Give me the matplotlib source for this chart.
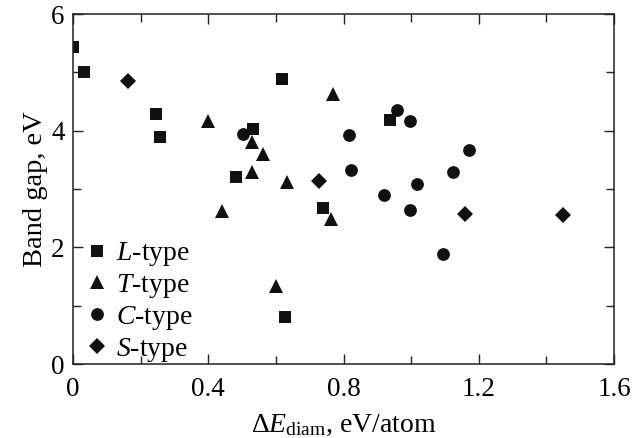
import matplotlib
matplotlib.use('Agg')
import matplotlib.pyplot as plt
from matplotlib.ticker import MultipleLocator

plt.rcParams['font.family'] = 'Liberation Serif'
plt.rcParams['mathtext.fontset'] = 'custom'
plt.rcParams['mathtext.rm'] = 'Liberation Serif'
plt.rcParams['mathtext.it'] = 'Liberation Serif:italic'

# band gap (eV) vs diamond-relative energy (eV/atom)
l_x = [0.0, 0.032, 0.246, 0.256, 0.481, 0.533, 0.619, 0.739, 0.938, 0.628]
l_y = [5.43, 5.01, 4.29, 3.90, 3.20, 4.03, 4.89, 2.68, 4.18, 0.81]

t_x = [0.398, 0.529, 0.561, 0.530, 0.632, 0.768, 0.442, 0.762, 0.600]
t_y = [4.17, 3.81, 3.60, 3.29, 3.12, 4.63, 2.63, 2.49, 1.33]

c_x = [0.503, 0.815, 0.822, 0.959, 0.998, 1.172, 1.125, 1.017, 0.920, 0.998, 1.094]
c_y = [3.95, 3.93, 3.32, 4.36, 4.16, 3.67, 3.30, 3.09, 2.90, 2.64, 1.88]

s_x = [0.164, 0.727, 1.158, 1.448]
s_y = [4.86, 3.13, 2.57, 2.56]

labels = ['$L$-type', '$T$-type', '$C$-type', '$S$-type']

fig = plt.figure(figsize=(6.34, 4.38), dpi=100)
ax = fig.add_axes([73 / 634, 1 - 364 / 438, 541 / 634, 350 / 438])

col = '#111111'
ax.plot(l_x, l_y, 's', color=col, ms=8.6, mew=0, label=labels[0])
ax.plot(t_x, t_y, '^', color=col, ms=9.5, mew=0, label=labels[1])
ax.plot(c_x, c_y, 'o', color=col, ms=9.2, mew=0, label=labels[2])
ax.plot(s_x, s_y, 'D', color=col, ms=8.2, mew=0, label=labels[3])

ax.set_xlim(0, 1.6)
ax.set_ylim(0, 6)
ax.xaxis.set_major_locator(MultipleLocator(0.4))
ax.xaxis.set_minor_locator(MultipleLocator(0.2))
ax.yaxis.set_major_locator(MultipleLocator(2))
ax.yaxis.set_minor_locator(MultipleLocator(1))
ax.set_xticks([0, 0.4, 0.8, 1.2, 1.6])
ax.set_xticklabels(['0', '0.4', '0.8', '1.2', '1.6'])
ax.tick_params(which='both', direction='in', top=True, right=True,
               labelsize=19.5, width=1, color='#222222')
ax.tick_params(which='major', length=7, pad=6)
ax.tick_params(axis='x', which='major', pad=9)
ax.tick_params(which='minor', length=6)
for sp in ax.spines.values():
    sp.set_linewidth(1.1)
    sp.set_color('#222222')

ax.set_xlabel(r'$\Delta E_{\rm diam}$, eV/atom', fontsize=20, labelpad=8)
ax.set_ylabel('Band gap, eV', fontsize=20.5, labelpad=2)

ax.legend(loc='lower left', bbox_to_anchor=(0.018, 0.0), frameon=False,
          fontsize=20, handlelength=1.0, handletextpad=0.2,
          labelspacing=0.14, borderpad=0, borderaxespad=0, numpoints=1)

fig.savefig('out.png', dpi=100)
